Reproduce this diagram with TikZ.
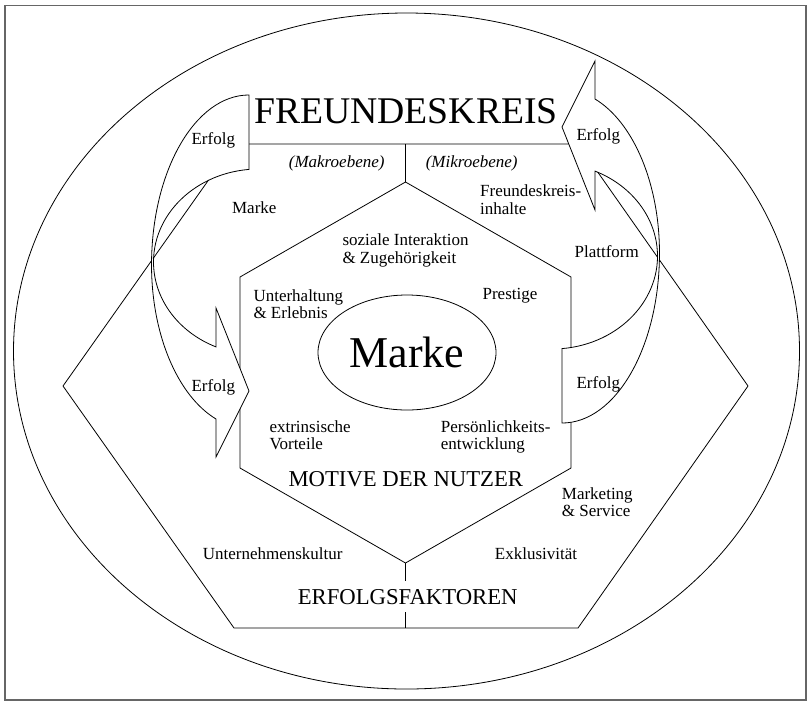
\documentclass[tikz,border=0pt]{standalone}
\usepackage{fontspec}
\setmainfont{Liberation Serif}
\usetikzlibrary{shapes.geometric}
\tikzset{
  ln/.style={line width=0.8pt, draw=black},
  framesty/.style={line width=1.3pt, draw=black!60},
  arrowshape/.style={ln, fill=white, line join=miter},
  lbl/.style={inner sep=0pt, font=\fontsize{17}{17.7}\selectfont},
  lbll/.style={lbl, align=left, anchor=north west},
  lbli/.style={lbl, font=\fontsize{17}{17.7}\selectfont\itshape, anchor=base},
  bigtitle/.style={inner sep=0pt, anchor=base, font=\fontsize{37.7}{40}\selectfont},
  midtitle/.style={inner sep=0pt, anchor=base, font=\fontsize{22.7}{25}\selectfont}
}
\newcommand{\curvarrowpath}{%
  (249,169.4) arc[start angle=264.56, end angle=114.05, x radius=105.5, y radius=93]
  -- (216,308) -- (249,391) -- (216,457) -- (216,419)
  arc[start angle=109.8, end angle=180, x radius=97.5, y radius=163.7]
  arc[start angle=180, end angle=270, x radius=97.5, y radius=170] -- cycle}
\begin{document}
\begin{tikzpicture}[x=1pt,y=1pt,yscale=-1]
\useasboundingbox (0,0) rectangle (808,705);
% frame and circle
\draw[framesty] (5,5.5) rectangle (806,700);
\draw[ln] (406.5,351) ellipse [x radius=393, y radius=338];
% outer hexagon (Erfolgsfaktoren)
\draw[ln] (63,386) -- (234,144) -- (578,144) -- (748,386) -- (578,628) -- (234,628) -- cycle;
% coordinates
\coordinate (otop) at (405.5,144);
\coordinate (htop) at (405.5,182);
\coordinate (hbot) at (405.5,563);
\coordinate (obot) at (405.5,628);
\draw[ln] (otop) -- (htop);
\draw[ln] (hbot) -- (obot);
% inner hexagon (Motive)
\draw[ln] (240,277) -- (htop) -- (571,277) -- (571,468) -- (hbot) -- (240,468) -- cycle;
% centre ellipse
\node[ln, ellipse, minimum width=178pt, minimum height=115pt, inner sep=0pt,
      font=\fontsize{44}{46}\selectfont] (marke) at (407,352.5) {Marke};
% curved arrows
\draw[arrowshape] \curvarrowpath;
\begin{scope}[rotate around={180:(405.5,259)}]
  \draw[arrowshape] \curvarrowpath;
\end{scope}
% titles
\node[bigtitle] (freundeskreis) at (406,123.3) {FREUNDESKREIS};
\node[midtitle] (motive) at (405.8,486) {MOTIVE DER NUTZER};
\node[midtitle, fill=white, inner xsep=3pt, inner ysep=8pt] (erfolgsf) at (407.7,604) {ERFOLGSFAKTOREN};
% Erfolg labels
\node[lbl, anchor=base] (e1) at (213.3,144) {Erfolg};
\node[lbl, anchor=base] (e2) at (213.3,391.7) {Erfolg};
\node[lbl, anchor=base] (e3) at (598.3,140) {Erfolg};
\node[lbl, anchor=base] (e4) at (598.3,388.3) {Erfolg};
% level labels
\node[lbli] (makro) at (336.7,167.5) {(Makroebene)};
\node[lbli] (mikro) at (471.7,167.5) {(Mikroebene)};
% factors
\node[lbl, anchor=base] (markes) at (254.3,213.5) {Marke};
\node[lbll] (inhalte) at (480,184.4) {Freundeskreis-\\inhalte};
\node[lbl, anchor=base] (plattform) at (606.7,257.3) {Plattform};
\node[lbll] (marketing) at (561.7,487.1) {Marketing\\\& Service};
\node[lbl, anchor=base] (kultur) at (272.7,559.3) {Unternehmenskultur};
\node[lbl, anchor=base] (exkl) at (536,559) {Exklusivität};
% motives
\node[lbll] (sozial) at (342.3,233.4) {soziale Interaktion\\\& Zugehörigkeit};
\node[lbll] (unterh) at (253.3,289.1) {Unterhaltung\\\& Erlebnis};
\node[lbl, anchor=base] (prestige) at (510,299) {Prestige};
\node[lbll] (extr) at (269.3,420.1) {extrinsische\\Vorteile};
\node[lbll] (pers) at (440.7,420.1) {Persönlichkeits-\\entwicklung};
\end{tikzpicture}
\end{document}
